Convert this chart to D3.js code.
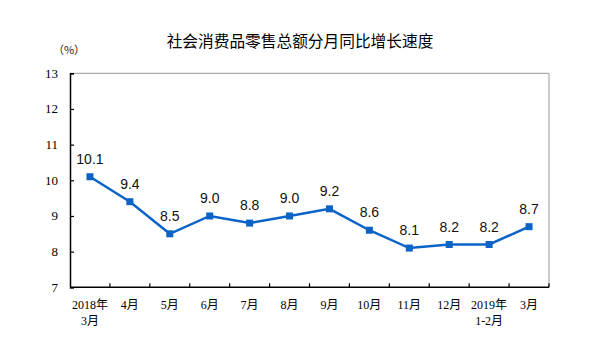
<!DOCTYPE html>
<html>
<head>
<meta charset="utf-8">
<script src="https://cdn.jsdelivr.net/npm/d3@7"></script>
<style>
  html, body { margin: 0; padding: 0; background: #fff; }
  svg { display: block; }
</style>
</head>
<body>
<svg id="chart" width="613" height="342"></svg>
<script>
// Monthly year-on-year growth of total retail sales of consumer goods (%)
const titleText = "社会消费品零售总额分月同比增长速度";
const unitText = "（%）";
const categories = [
  ["2018年", "3月"], ["4月"], ["5月"], ["6月"], ["7月"], ["8月"],
  ["9月"], ["10月"], ["11月"], ["12月"], ["2019年", "1-2月"], ["3月"]
];
const growth = [10.1, 9.4, 8.5, 9.0, 8.8, 9.0, 9.2, 8.6, 8.1, 8.2, 8.2, 8.7];
const yTicks = [7, 8, 9, 10, 11, 12, 13];

const svg = d3.select("#chart");
const plotLeft = 70, plotRight = 549, plotTop = 73.3, plotBottom = 287.3;

const x = d3.scaleBand().domain(d3.range(categories.length)).range([plotLeft, plotRight]);
const y = d3.scaleLinear().domain([7, 13]).range([plotBottom, plotTop]);

const serif = "'Liberation Serif', 'Times New Roman', 'Noto Sans CJK SC', serif";
const sans = "'Liberation Sans', Arial, 'Noto Sans CJK SC', sans-serif";

// title
svg.append("text")
  .attr("x", 300).attr("y", 47)
  .attr("text-anchor", "middle")
  .attr("font-family", "'Noto Sans CJK SC', sans-serif")
  .attr("font-size", 15.7)
  .attr("fill", "#000")
  .text(titleText);

// unit
svg.append("text")
  .attr("x", 69).attr("y", 54)
  .attr("text-anchor", "middle")
  .attr("font-family", "'Noto Sans CJK SC', serif")
  .attr("font-size", 11)
  .attr("fill", "#222")
  .text(unitText);

// frame top / right in grey
svg.append("path")
  .attr("d", `M${plotLeft},${plotTop}H${plotRight}V${plotBottom}`)
  .attr("fill", "none")
  .attr("stroke", "#999")
  .attr("stroke-width", 1);

// y axis
const yAxis = svg.append("g")
  .attr("transform", `translate(${plotLeft},0)`)
  .call(d3.axisRight(y).tickValues(yTicks).tickSize(4).tickFormat(""));
yAxis.select(".domain").attr("stroke", "#000").attr("stroke-width", 1.5);
yAxis.selectAll(".tick line").attr("stroke", "#000").attr("stroke-width", 1.2);

svg.append("g").selectAll("text")
  .data(yTicks)
  .join("text")
  .attr("x", 58)
  .attr("y", d => y(d) + 4.5)
  .attr("text-anchor", "end")
  .attr("font-family", serif)
  .attr("font-size", 13)
  .attr("fill", "#000")
  .text(d => d);

// x axis with tick marks at category boundaries
const boundaries = d3.range(1, categories.length).map(i => x(i));
const xAxisG = svg.append("g");
xAxisG.append("line")
  .attr("x1", plotLeft).attr("x2", plotRight)
  .attr("y1", plotBottom).attr("y2", plotBottom)
  .attr("stroke", "#000").attr("stroke-width", 1.5);
xAxisG.selectAll("line.tk")
  .data(boundaries.concat([plotRight]))
  .join("line")
  .attr("class", "tk")
  .attr("x1", d => d).attr("x2", d => d)
  .attr("y1", plotBottom).attr("y2", plotBottom - 4)
  .attr("stroke", "#000").attr("stroke-width", 1.2);

// category labels
const catG = svg.append("g");
categories.forEach((lines, i) => {
  const cx = x(i) + x.bandwidth() / 2;
  lines.forEach((ln, j) => {
    catG.append("text")
      .attr("x", cx)
      .attr("y", 308.5 + j * 16)
      .attr("text-anchor", "middle")
      .attr("font-family", serif)
      .attr("font-size", 12)
      .attr("fill", "#000")
      .text(ln);
  });
});

// line
const line = d3.line()
  .x((d, i) => x(i) + x.bandwidth() / 2)
  .y(d => y(d));

svg.append("path")
  .datum(growth)
  .attr("d", line)
  .attr("fill", "none")
  .attr("stroke", "#0a64c8")
  .attr("stroke-width", 2.5);

// markers
svg.append("g").selectAll("rect")
  .data(growth)
  .join("rect")
  .attr("x", (d, i) => x(i) + x.bandwidth() / 2 - 3.5)
  .attr("y", d => y(d) - 3.5)
  .attr("width", 7).attr("height", 7)
  .attr("fill", "#0a64c8");

// value labels
svg.append("g").selectAll("text")
  .data(growth)
  .join("text")
  .attr("x", (d, i) => x(i) + x.bandwidth() / 2)
  .attr("y", d => y(d) - 13)
  .attr("text-anchor", "middle")
  .attr("font-family", sans)
  .attr("font-size", 14)
  .attr("fill", "#111")
  .text(d => d.toFixed(1));
</script>
</body>
</html>
